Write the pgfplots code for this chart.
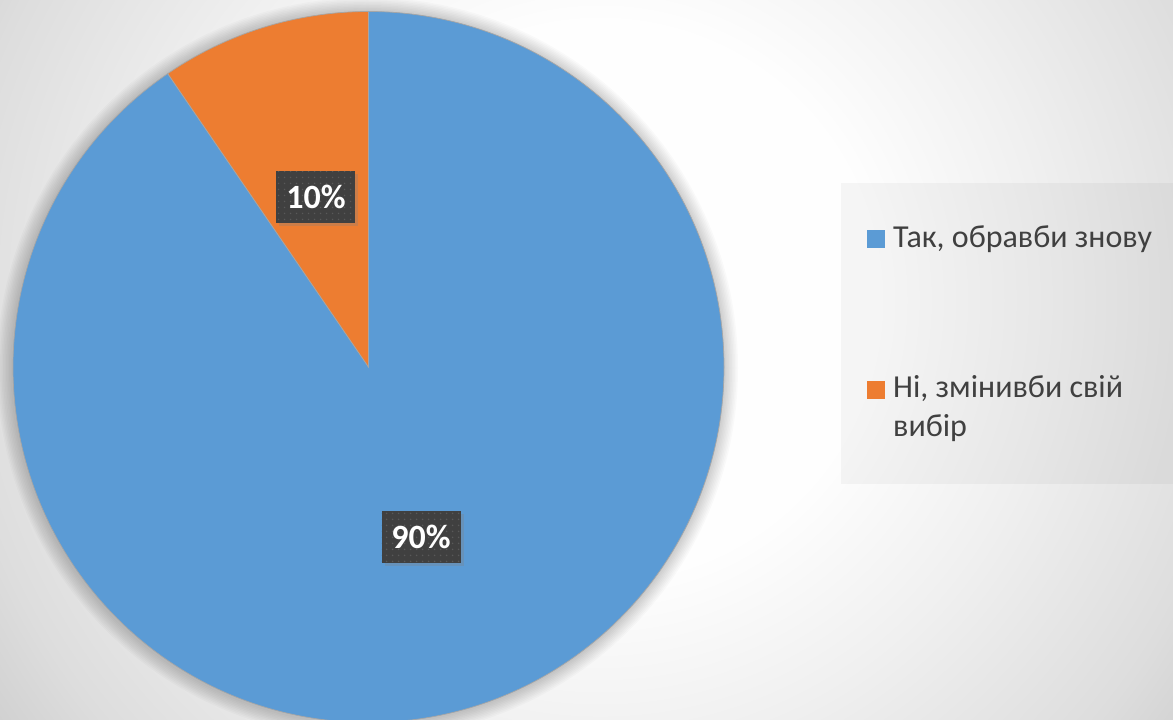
\documentclass[border=0pt]{standalone}
\usepackage{fontspec}
\setmainfont{Carlito}
\usepackage{pgfplots}
\pgfplotsset{compat=1.18}
\usepackage{pgfplotstable}
\usetikzlibrary{patterns.meta,shadows}

\definecolor{pieblue}{HTML}{5B9BD5}
\definecolor{pieorange}{HTML}{ED7D31}
\definecolor{labelbg}{HTML}{404040}
\definecolor{labeldot}{HTML}{595959}
\definecolor{legtext}{HTML}{404040}
\definecolor{sepline}{HTML}{A6A6A6}

% background: soft radial gradient (1bp = 40px once fitted to a 1000px circle)
\pgfdeclareradialshading{bgshade}{\pgfpoint{0bp}{0bp}}{rgb(0bp)=(1,1,1); rgb(7bp)=(0.995,0.995,0.995); rgb(11.25bp)=(0.94,0.94,0.94); rgb(16.25bp)=(0.867,0.867,0.867); rgb(18.75bp)=(0.81,0.81,0.81); rgb(22.5bp)=(0.78,0.78,0.78); rgb(50bp)=(0.78,0.78,0.78)}

% dotted fill of the data labels
\tikzdeclarepattern{name=lbldots, type=uncolored,
  bounding box={(0pt,0pt) and (6pt,6pt)}, tile size={(6pt,6pt)},
  code={\fill (3pt,3pt) circle (0.9pt);}}

% shares in percent
\pgfplotstableread{
share
90.45
9.55
}\piedata

\newcommand{\legfont}{\fontsize{32}{39}\selectfont}
\newcommand{\lblfont}{\fontsize{34}{40}\selectfont\bfseries}

\begin{document}
\begin{tikzpicture}[x=1pt,y=1pt]
\useasboundingbox (0,0) rectangle (1173,720);
\begin{scope}
  \clip (0,0) rectangle (1173,720);
  \shade[shading=bgshade] (600,420) circle (1000);
  % soft shadow round the pie
  \foreach \i in {1,...,10}
    \fill[black, opacity=0.02] (367.5,352) circle ({355.5+1.5*\i});
\end{scope}

% slice angles from the data, clockwise from the top
\pgfplotstablegetelem{0}{share}\of\piedata \pgfmathsetmacro{\va}{\pgfplotsretval}
\pgfplotstablegetelem{1}{share}\of\piedata \pgfmathsetmacro{\vb}{\pgfplotsretval}
\pgfmathsetmacro{\tot}{\va+\vb}
\pgfmathsetmacro{\fa}{\va/\tot}
\pgfmathsetmacro{\fb}{\vb/\tot}
\pgfmathsetmacro{\aA}{90}
\pgfmathsetmacro{\aB}{90-360*\fa}
\pgfmathsetmacro{\aC}{\aB-360*\fb}
\pgfmathsetmacro{\mA}{(\aA+\aB)/2}
\pgfmathsetmacro{\mB}{(\aB+\aC)/2}
\pgfmathtruncatemacro{\pA}{round(100*\fa)}
\pgfmathtruncatemacro{\pB}{round(100*\fb)}
\pgfmathsetmacro{\lAx}{368.5+0.5*355.5*cos(\mA)}
\pgfmathsetmacro{\lAy}{353+0.5*355.5*sin(\mA)}
\pgfmathsetmacro{\lBx}{368.5+0.5*355.5*cos(\mB)}
\pgfmathsetmacro{\lBy}{353+0.5*355.5*sin(\mB)}

\begin{axis}[hide axis, x=1pt, y=1pt,
  xmin=0, xmax=1173, ymin=0, ymax=720,
  anchor=origin, at={(0,0)}, clip=false]

\fill[pieblue, draw=sepline, line width=0.7pt] (axis cs:368.5,353) -- ++(\aA:355.5pt)
  arc[start angle=\aA, end angle=\aB, radius=355.5pt] -- cycle;
\fill[pieorange, draw=sepline, line width=0.7pt] (axis cs:368.5,353) -- ++(\aB:355.5pt)
  arc[start angle=\aB, end angle=\aC, radius=355.5pt] -- cycle;

\tikzset{lbl/.style={fill=labelbg, minimum width=79pt, minimum height=52pt,
  inner sep=0pt, text=white, font=\lblfont,
  drop shadow={shadow xshift=3pt, shadow yshift=-3pt, opacity=0.3},
  postaction={pattern={lbldots}, pattern color=labeldot}}}
\node[lbl] at (axis cs:\lAx,\lAy) {\pA\%};
\node[lbl] at (axis cs:\lBx,\lBy) {\pB\%};

% legend
\fill[black, opacity=0.035] (axis cs:841,236) rectangle (axis cs:1173,537);
\fill[pieblue] (axis cs:867,472) rectangle (axis cs:885,490);
\node[anchor=base west, inner sep=0pt, text=legtext, font=\legfont] at (axis cs:893,472) {Так, обравби знову};
\fill[pieorange] (axis cs:867,321) rectangle (axis cs:885,339);
\node[anchor=base west, inner sep=0pt, text=legtext, font=\legfont] at (axis cs:893,322) {Ні, змінивби свій};
\node[anchor=base west, inner sep=0pt, text=legtext, font=\legfont] at (axis cs:893,283) {вибір};
\end{axis}
\end{tikzpicture}
\end{document}
